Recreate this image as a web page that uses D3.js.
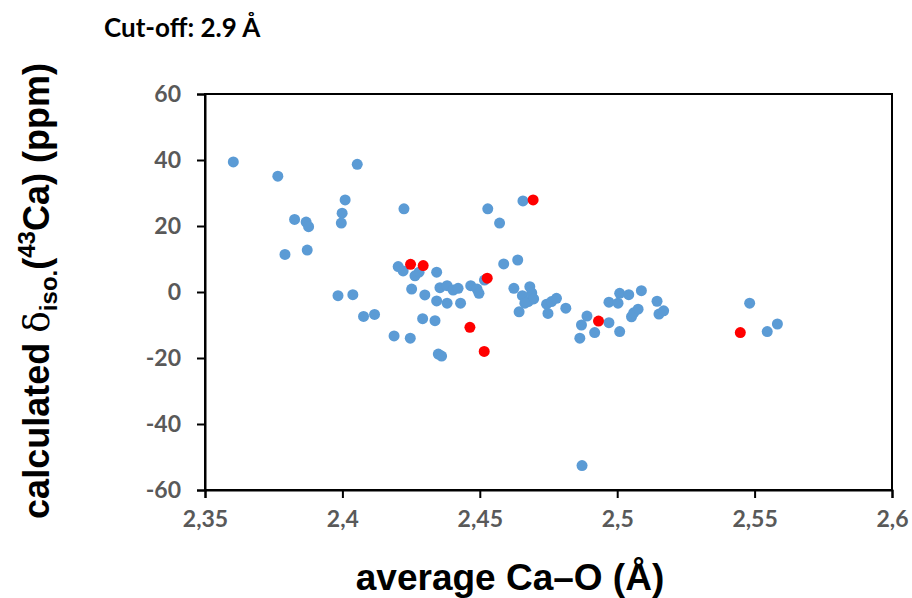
<!DOCTYPE html>
<html>
<head>
<meta charset="utf-8">
<script src="https://cdn.jsdelivr.net/npm/d3@7"></script>
<style>
  body { margin: 0; background: #fff; }
  svg { display: block; }
  .tick-label { font-family: Lato, "Open Sans", sans-serif; font-weight: 700; font-size: 23px; fill: #595959; }
  .axis-title { font-family: "Liberation Sans", Arial, sans-serif; font-weight: 700; font-size: 37px; fill: #000; }
</style>
</head>
<body>
<div id="chart"></div>
<script>
// blue points: average Ca-O distance vs calculated shift
const blueX = [2.3603, 2.3765, 2.4054, 2.4010, 2.4224, 2.3999, 2.3996, 2.3826, 2.3868, 2.3877,
  2.3791, 2.3872, 2.4203, 2.4221, 2.4264, 2.4279, 2.4343, 2.4252, 2.4300, 2.4355,
  2.4381, 2.4403, 2.4421, 2.4343, 2.4381, 2.4430, 2.4467, 2.4490, 2.4497, 2.4517,
  2.3984, 2.4038, 2.4077, 2.4117, 2.4292, 2.4337, 2.4188, 2.4247, 2.4349, 2.4361,
  2.4529, 2.4572, 2.4657, 2.4587, 2.4638, 2.4624, 2.4682, 2.4655, 2.4689, 2.4676,
  2.4696, 2.4664, 2.4643, 2.4743, 2.4761, 2.4779, 2.4748, 2.4813, 2.4890, 2.4870,
  2.4864, 2.4918, 2.4970, 2.5009, 2.4970, 2.5003, 2.5009, 2.5042, 2.5088, 2.5052,
  2.5060, 2.5076, 2.5145, 2.5152, 2.5169, 2.4872, 2.5482, 2.5546, 2.5583];
const blueY = [39.4, 35.1, 38.7, 27.9, 25.2, 23.9, 20.9, 22.0, 21.2, 19.8,
  11.4, 12.7, 7.7, 6.4, 4.9, 6.0, 6.0, 0.9, -0.9, 1.3,
  1.9, 0.6, 1.1, -2.7, -3.4, -3.4, 1.9, 0.9, -0.4, 3.6,
  -1.1, -0.8, -7.4, -6.8, -8.1, -8.7, -13.3, -14.0, -18.8, -19.4,
  25.2, 20.9, 27.6, 8.5, 9.7, 1.1, 1.6, -1.1, -0.3, -2.9,
  -2.1, -3.4, -6.0, -3.7, -2.9, -1.9, -6.5, -4.9, -7.3, -10.0,
  -14.0, -12.3, -9.3, -12.0, -3.1, -3.4, -0.4, -0.8, 0.4, -7.5,
  -6.3, -5.2, -2.8, -6.7, -5.7, -52.6, -3.4, -12.0, -9.7];

// red points
const redX = [2.4248, 2.4294, 2.4694, 2.4527, 2.4464, 2.4516, 2.4932, 2.5448];
const redY = [8.4, 8.0, 27.9, 4.2, -10.7, -18.0, -8.8, -12.3];

const xTicks = [2.35, 2.4, 2.45, 2.5, 2.55, 2.6];
const xTickLabels = ["2,35", "2,4", "2,45", "2,5", "2,55", "2,6"];
const yTicks = [-60, -40, -20, 0, 20, 40, 60];
const yTickLabels = ["-60", "-40", "-20", "0", "20", "40", "60"];

const width = 912, height = 598;
const margin = { top: 94, right: 20, bottom: 108, left: 205 };
const innerW = 892 - margin.left;
const innerH = 490 - margin.top;

const svg = d3.select("#chart").append("svg")
    .attr("width", width)
    .attr("height", height);

const g = svg.append("g")
    .attr("transform", `translate(${margin.left},${margin.top})`);

const xScale = d3.scaleLinear().domain([2.35, 2.6]).range([0, innerW]);
const yScale = d3.scaleLinear().domain([-60, 60]).range([innerH, 0]);

// plot area frame
g.append("rect")
    .attr("x", 0).attr("y", 0)
    .attr("width", innerW).attr("height", innerH)
    .attr("fill", "none")
    .attr("stroke", "#000")
    .attr("stroke-width", 2);

// axes
const xAxis = g.append("g")
    .attr("transform", `translate(0,${innerH})`)
    .call(d3.axisBottom(xScale).tickValues(xTicks).tickSize(8).tickFormat((d, i) => xTickLabels[i]));
const yAxis = g.append("g")
    .call(d3.axisLeft(yScale).tickValues(yTicks).tickSize(8).tickFormat((d, i) => yTickLabels[i]));

[xAxis, yAxis].forEach(ax => {
    ax.select(".domain").attr("stroke", "#000").attr("stroke-width", 2);
    ax.selectAll(".tick line").attr("stroke", "#000").attr("stroke-width", 2);
    ax.selectAll(".tick text").attr("class", "tick-label").attr("fill", null);
});
xAxis.selectAll(".tick text").attr("dy", "1.05em").attr("y", 13);
yAxis.selectAll(".tick text").attr("x", -24);

// points
g.append("g").selectAll("circle")
    .data(blueX.map((x, i) => ({ x, y: blueY[i] })))
    .join("circle")
        .attr("cx", d => xScale(d.x))
        .attr("cy", d => yScale(d.y))
        .attr("r", 5.5)
        .attr("fill", "#5B9BD5");

g.append("g").selectAll("circle")
    .data(redX.map((x, i) => ({ x, y: redY[i] })))
    .join("circle")
        .attr("cx", d => xScale(d.x))
        .attr("cy", d => yScale(d.y))
        .attr("r", 5.5)
        .attr("fill", "#FF0000");

// titles
svg.append("text")
    .attr("x", 104).attr("y", 37)
    .style("font-family", "Lato, 'Open Sans', sans-serif")
    .style("font-weight", 700)
    .style("font-size", "26px")
    .text("Cut-off: 2.9 Å");

svg.append("text")
    .attr("class", "axis-title")
    .attr("x", 510).attr("y", 590)
    .attr("text-anchor", "middle")
    .text("average Ca\u2013O (Å)");

const yTitle = svg.append("text")
    .attr("class", "axis-title")
    .attr("text-anchor", "middle")
    .style("font-size", "36px")
    .attr("transform", "translate(49,291) rotate(-90)");
yTitle.append("tspan").text("calculated ");
yTitle.append("tspan").style("font-family", "'DejaVu Serif', serif").style("font-weight", 400).text("δ");
yTitle.append("tspan").attr("dy", 8).style("font-size", "24px").text("iso.");
yTitle.append("tspan").attr("dy", -8).text("(");
yTitle.append("tspan").attr("dy", -14).style("font-size", "24px").text("43");
yTitle.append("tspan").attr("dy", 14).text("Ca) (ppm)");
</script>
</body>
</html>
